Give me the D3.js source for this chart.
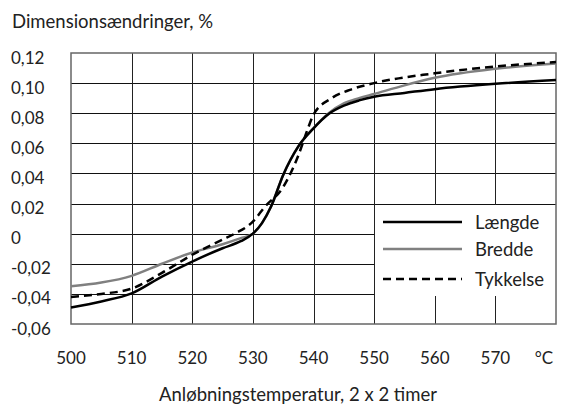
<!DOCTYPE html>
<html lang="da">
<head>
<meta charset="utf-8">
<title>Dimensionsændringer</title>
<script src="https://cdn.jsdelivr.net/npm/d3@7"></script>
<style>
  body { margin: 0; background: #fff; }
  svg { display: block; font-family: Lato, "Open Sans", sans-serif; }
</style>
</head>
<body>
<script>
// Data
var xTicks = [500, 510, 520, 530, 540, 550, 560, 570];
var yTicks = [-0.06, -0.04, -0.02, 0, 0.02, 0.04, 0.06, 0.08, 0.10, 0.12];

var laengdeT = [500, 505, 510, 515, 520, 525, 528, 530, 531.5, 533, 535, 537.5, 540, 542.5, 545, 547.5, 550, 555, 560, 570, 580];
var laengdeV = [-0.049, -0.045, -0.0397, -0.0285, -0.0185, -0.0097, -0.005, 0.000, 0.007, 0.018, 0.039, 0.058, 0.070, 0.0795, 0.085, 0.0885, 0.091, 0.0935, 0.096, 0.0995, 0.102];

var breddeT = [500, 505, 510, 515, 520, 525, 528, 530, 531.5, 533, 535, 537.5, 540, 542.5, 545, 547.5, 550, 555, 560, 570, 580];
var breddeV = [-0.035, -0.0325, -0.028, -0.020, -0.0125, -0.007, -0.003, 0.000, 0.007, 0.018, 0.039, 0.058, 0.070, 0.080, 0.0865, 0.090, 0.0928, 0.0985, 0.1035, 0.1095, 0.113];

var tykkelseT = [500, 505, 510, 515, 520, 525, 527, 530, 532, 535, 537.5, 539, 540, 543, 546, 550, 560, 570, 580];
var tykkelseV = [-0.042, -0.040, -0.0365, -0.026, -0.014, -0.004, 0.0, 0.008, 0.018, 0.031, 0.052, 0.069, 0.079, 0.090, 0.0955, 0.100, 0.1065, 0.111, 0.114];

var seriesNames = ["Længde", "Bredde", "Tykkelse"];

var w = 561, h = 405;
var svg = d3.select("body").append("svg").attr("width", w).attr("height", h);

var x = d3.scaleLinear().domain([500, 580]).range([71, 556]);
var y = d3.scaleLinear().domain([-0.06, 0.12]).range([324, 53]);

var fmt = function(v) {
  if (Math.abs(v) < 1e-9) return "0";
  return d3.format(".2f")(v).replace(".", ",").replace("−", "-");
};

// grid lines
svg.append("g").selectAll("line").data(yTicks.slice(1, -1)).enter()
  .append("line")
  .attr("x1", x(500)).attr("x2", x(580))
  .attr("y1", d => Math.round(y(d)) + 0.5).attr("y2", d => Math.round(y(d)) + 0.5)
  .attr("stroke", "#111").attr("stroke-width", 1);

svg.append("g").selectAll("line").data(xTicks.slice(1)).enter()
  .append("line")
  .attr("x1", d => Math.round(x(d)) + 0.5).attr("x2", d => Math.round(x(d)) + 0.5)
  .attr("y1", y(0.12)).attr("y2", y(-0.06))
  .attr("stroke", "#222").attr("stroke-width", 1);

// legend box (covers the grid)
svg.append("rect")
  .attr("x", Math.round(x(550)) + 1)
  .attr("y", Math.round(y(0.02)) + 1)
  .attr("width", x(580) - Math.round(x(550)) - 1)
  .attr("height", Math.round(y(-0.04)) - Math.round(y(0.02)) + 1)
  .attr("fill", "#fff");

// frame
svg.append("rect")
  .attr("x", x(500)).attr("y", y(0.12))
  .attr("width", x(580) - x(500)).attr("height", y(-0.06) - y(0.12))
  .attr("fill", "none").attr("stroke", "#666").attr("stroke-width", 1.5);

// y labels
svg.append("g").selectAll("text").data(yTicks).enter()
  .append("text")
  .attr("x", 11).attr("y", d => y(d) + 4)
  .attr("dominant-baseline", "central")
  .attr("font-size", 17).attr("fill", "#222")
  .text(fmt);

// x labels
svg.append("g").selectAll("text").data(xTicks).enter()
  .append("text")
  .attr("x", d => x(d)).attr("y", 357)
  .attr("text-anchor", "middle").attr("dominant-baseline", "central")
  .attr("font-size", 17).attr("fill", "#222")
  .text(d => d);
svg.append("text").attr("x", x(578)).attr("y", 357)
  .attr("text-anchor", "middle").attr("dominant-baseline", "central")
  .attr("font-size", 17).attr("fill", "#222").text("°C");

// titles
svg.append("text").attr("x", 12).attr("y", 28)
  .attr("font-size", 18.5).attr("fill", "#222").text("Dimensionsændringer, %");
svg.append("text").attr("x", 298).attr("y", 394)
  .attr("text-anchor", "middle").attr("dominant-baseline", "central")
  .attr("font-size", 18.5).attr("fill", "#222").text("Anløbningstemperatur, 2 x 2 timer");

// curves
var line = d3.line().x(d => x(d[0])).y(d => y(d[1])).curve(d3.curveMonotoneX);
var series = [
  { name: seriesNames[1], pts: d3.zip(breddeT, breddeV), color: "#808080", dash: null },
  { name: seriesNames[0], pts: d3.zip(laengdeT, laengdeV), color: "#000", dash: null },
  { name: seriesNames[2], pts: d3.zip(tykkelseT, tykkelseV), color: "#000", dash: "8,5" }
];
svg.append("g").selectAll("path").data(series).enter()
  .append("path")
  .attr("d", d => line(d.pts))
  .attr("fill", "none")
  .attr("stroke", d => d.color)
  .attr("stroke-width", 2.5)
  .attr("stroke-dasharray", d => d.dash);

// legend
var legendOrder = [series[1], series[0], series[2]];
var lg = svg.append("g").selectAll("g").data(legendOrder).enter()
  .append("g")
  .attr("transform", (d, i) => "translate(0," + [222, 249, 279][i] + ")");
lg.append("line")
  .attr("x1", 383).attr("x2", 462)
  .attr("stroke", d => d.color).attr("stroke-width", 2.5)
  .attr("stroke-dasharray", d => d.dash);
lg.append("text")
  .attr("x", 475).attr("dominant-baseline", "central")
  .attr("font-size", 18.5).attr("fill", "#222")
  .text(d => d.name);
</script>
</body>
</html>
